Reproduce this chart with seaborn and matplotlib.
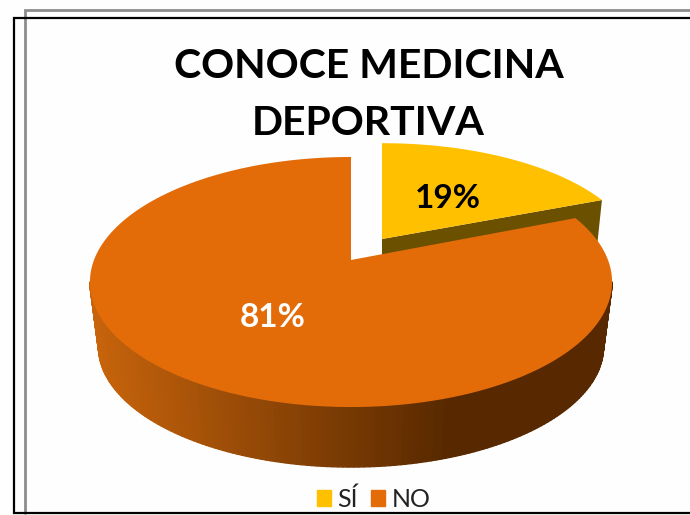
import numpy as np
import pandas as pd
import matplotlib
matplotlib.use('Agg')
import matplotlib.pyplot as plt
import seaborn as sns
from matplotlib.patches import Patch
from matplotlib.collections import PolyCollection
from matplotlib.colors import to_rgb

# Data
labels = ['SÍ', 'NO']
shares = [19, 81]
face_colors = ['#FFC000', '#E36C09']
wall_color = '#6B5000'

df = pd.DataFrame({'label': labels, 'share': shares})
df['end'] = df['share'].cumsum() / df['share'].sum() * 2 * np.pi
df['start'] = df['end'].shift(1, fill_value=0.0)

sns.set_theme(style='white')
plt.rcParams['font.family'] = ['Lato', 'DejaVu Sans']
palette = sns.color_palette(face_colors)

fig = plt.figure(figsize=(6.9, 5.15), dpi=100, facecolor='#fefefe')
ax = fig.add_axes([0, 0, 1, 1])
ax.set_xlim(0, 690)
ax.set_ylim(515, 0)
ax.axis('off')

# perspective used for the 3D look of the pie
K = 0.176
RADIUS = 257
APEX_Y = 260
TILT = -75.4


def project(theta, r=1.0, cx=351, cy=APEX_Y, sx=1.0, sy=1.0):
    # theta runs clockwise from 12 o'clock
    u = r * np.sin(theta)
    v = r * np.cos(theta)
    den = 1 + K * v
    x = cx + sx * RADIUS * u / den
    y = cy + sy * ((APEX_Y + TILT * v) / den - APEX_Y)
    return x, y


def depth(theta):
    return 60 + 6 * (1 + np.cos(theta))


def wedge_outline(start, end, **kw):
    t = np.linspace(start, end, 200)
    x, y = project(t, **kw)
    ax_x, ax_y = project(0.0, r=0.0, **kw)
    return np.r_[ax_x, x], np.r_[ax_y, y]


yes, no = df.iloc[0], df.iloc[1]
yes_geo = dict(cx=382, cy=239, sx=0.98, sy=0.93)
no_geo = dict(cx=351, cy=APEX_Y)

# wall of the pulled-out slice
xr, yr = project(yes['end'], **yes_geo)
xa, ya = project(0.0, r=0.0, **yes_geo)
ax.fill([xa, xr, xr - 8, xa], [ya, yr, yr + 76, ya + 60], color=wall_color, lw=0)
x, y = wedge_outline(yes['start'], yes['end'], **yes_geo)
ax.fill(x, y, color=palette[0], lw=0)

# round wall of the big slice, shaded from left to right, only the part facing us
front = np.arccos(-K)
t = np.linspace(max(no['start'], front), min(no['end'], 2 * np.pi - front), 160)
xt, yt = project(t, **no_geo)
xb = 351 + (xt - 351) * 0.967
yb = yt + depth(t)
quads = []
shades = []
dark = np.array(to_rgb('#582900'))
light = np.array(to_rgb('#C8640C'))
for i in range(len(t) - 1):
    quads.append([(xt[i], yt[i]), (xt[i + 1], yt[i + 1]), (xb[i + 1], yb[i + 1]), (xb[i], yb[i])])
    mix = np.clip((xt[i] - 90) / 360, 0, 1)
    shades.append(light + (dark - light) * mix)
ax.add_collection(PolyCollection(quads, facecolors=shades, edgecolors=shades, linewidths=1.0))

x, y = wedge_outline(no['start'], no['end'], **no_geo)
ax.fill(x, y, color=palette[1], lw=0)

# percent labels
for row, geo, col in [(yes, yes_geo, 'black'), (no, no_geo, 'white')]:
    lx, ly = project((row['start'] + row['end']) / 2, r=0.5, **geo)
    ax.text(lx, ly + 12.5, f"{row['share']}%", color=col, fontsize=24, fontweight='bold',
            ha='center', va='baseline')

ax.text(368.5, 78, 'CONOCE MEDICINA', fontsize=29.5, fontweight='bold', color='black',
        ha='center', va='baseline')
ax.text(368, 135, 'DEPORTIVA', fontsize=29.5, fontweight='bold', color='black',
        ha='center', va='baseline')

# the two frames around the chart
ax.plot([690, 25, 25], [10, 10, 513], color='#8c8c8c', lw=2, solid_joinstyle='miter')
ax.plot([690, 14, 14, 690], [18, 18, 513, 513], color='black', lw=1.6, solid_joinstyle='miter')

handles = [Patch(color=c, label=l) for c, l in zip(palette, labels)]
ax.legend(handles=handles, ncol=2, frameon=False, loc='center', bbox_to_anchor=(373.5, 499),
          bbox_transform=ax.transData, fontsize=18, handlelength=0.56, handleheight=0.6,
          handletextpad=0.24, columnspacing=0.56, labelcolor='#222222')

fig.savefig('out.png', dpi=100, facecolor=fig.get_facecolor())
